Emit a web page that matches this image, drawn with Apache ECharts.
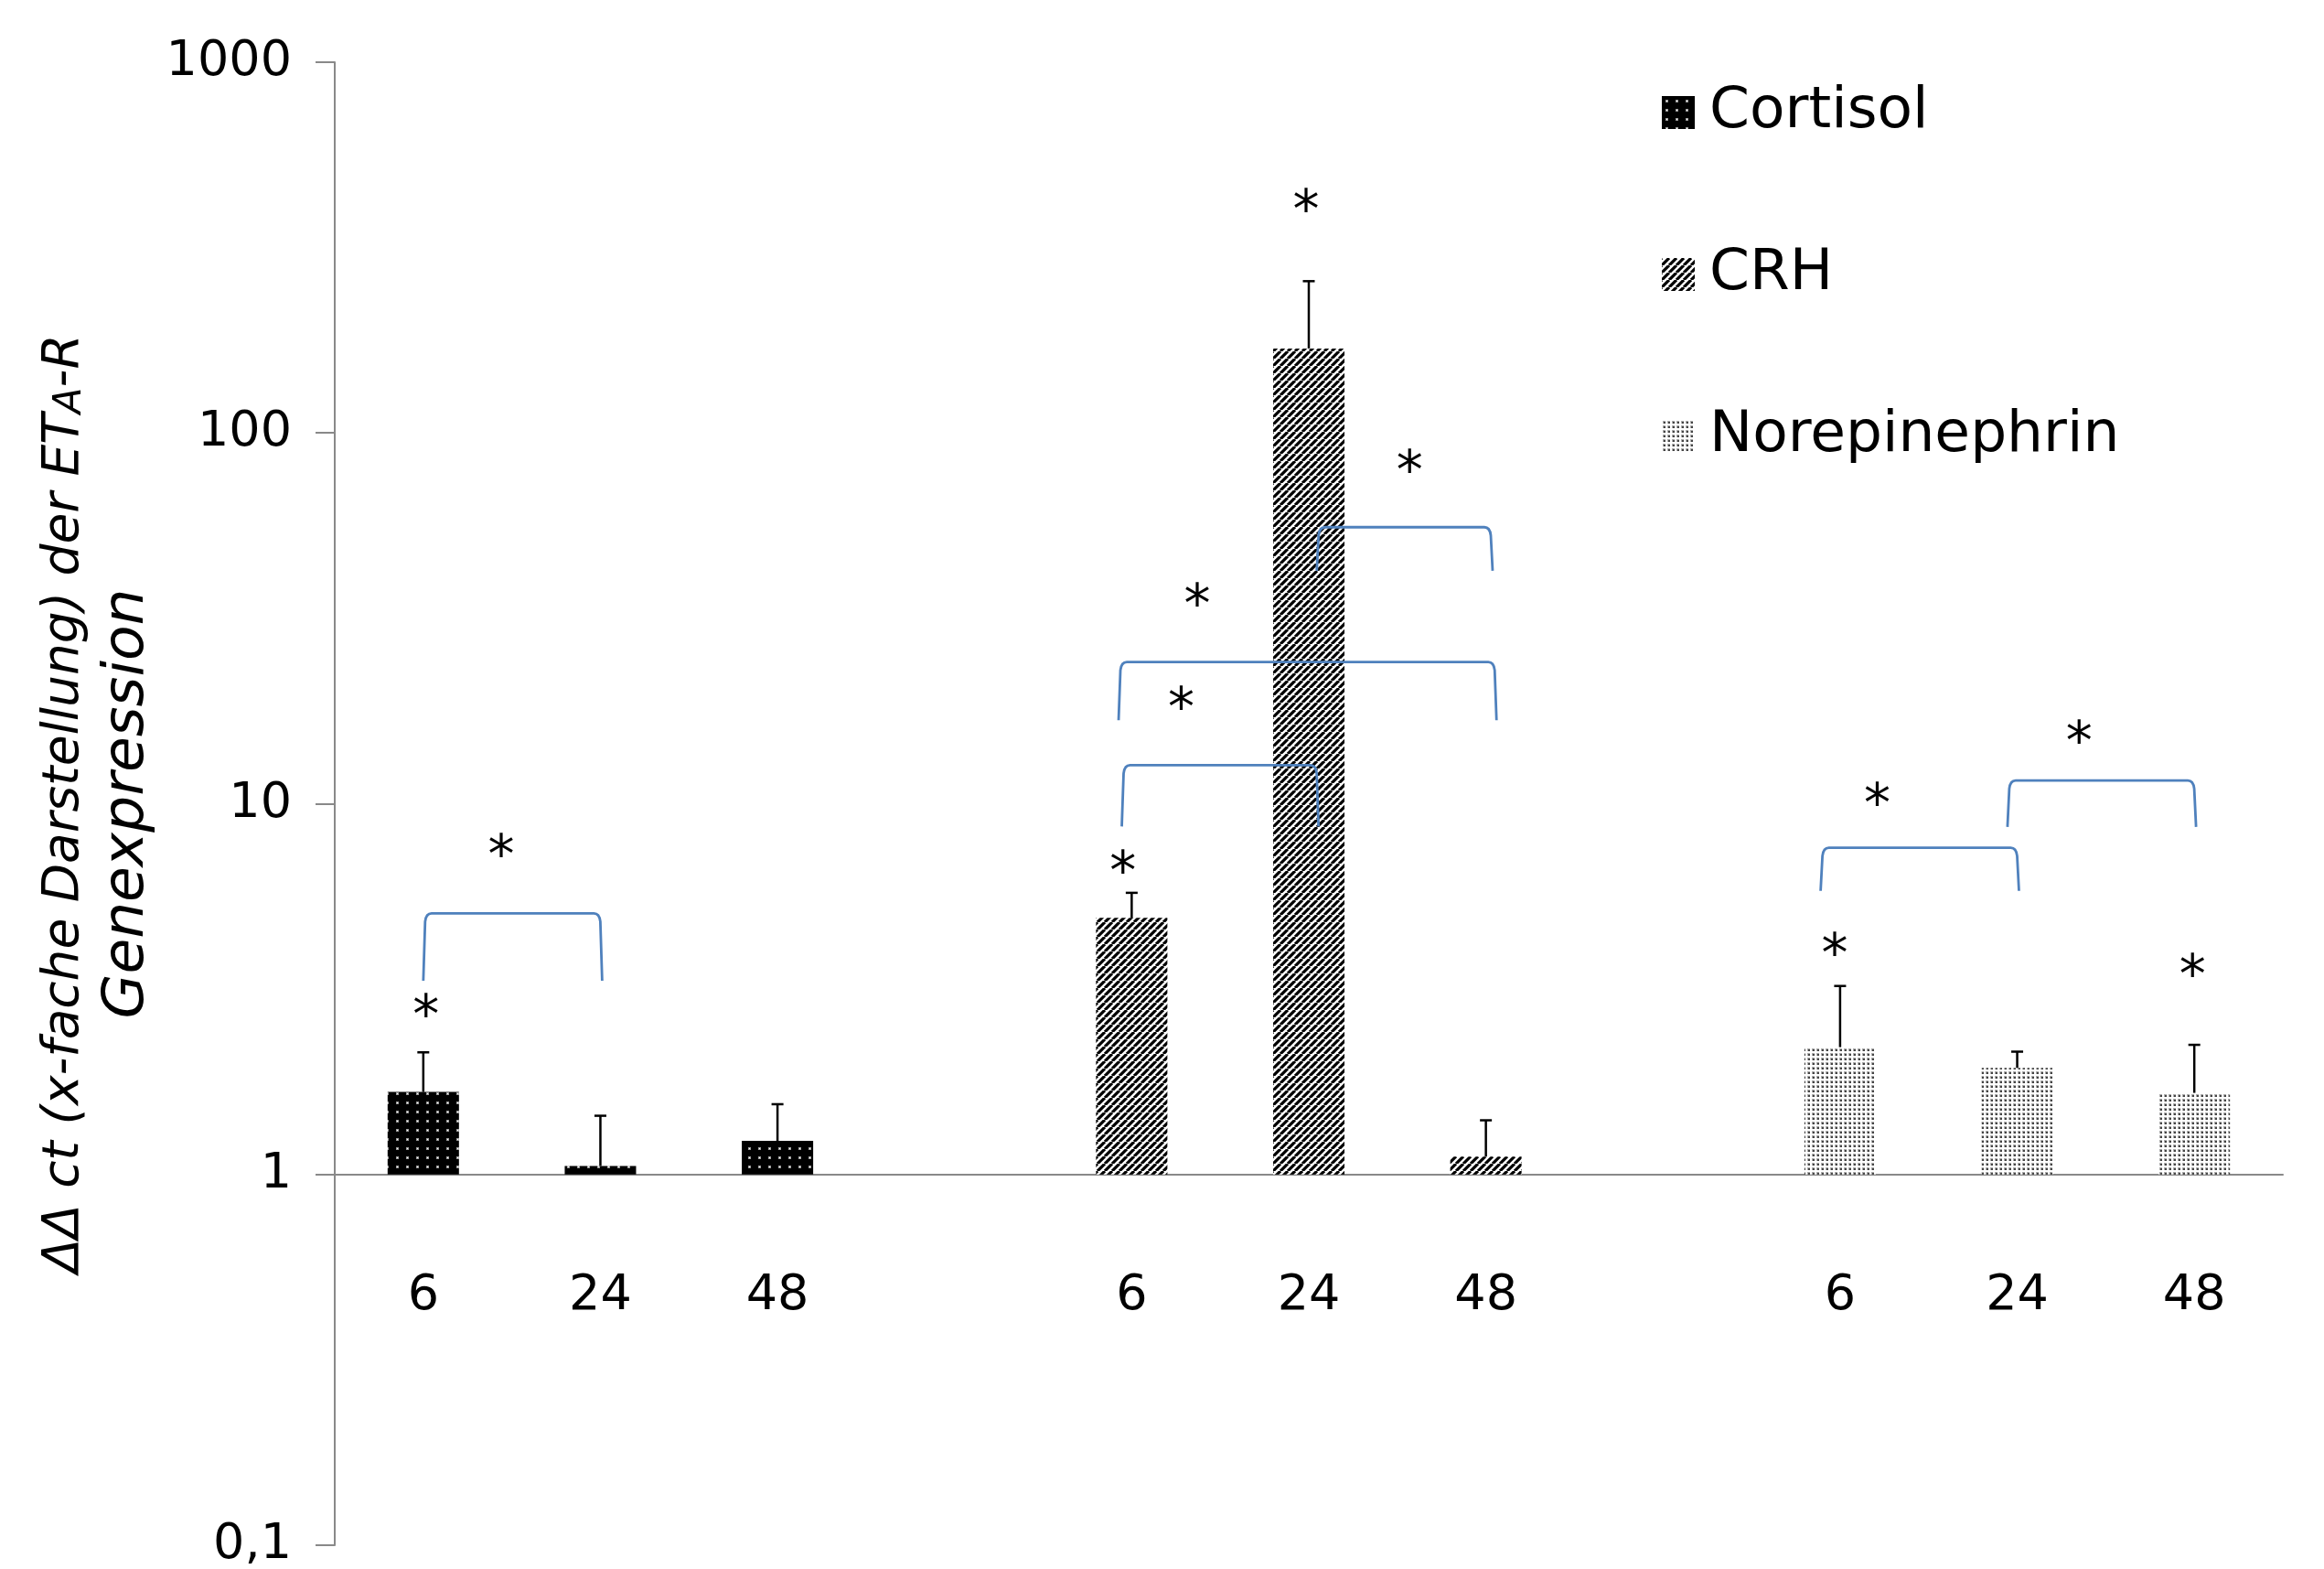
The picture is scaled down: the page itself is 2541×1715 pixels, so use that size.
<!DOCTYPE html>
<html>
<head>
<meta charset="utf-8">
<script src="https://cdn.jsdelivr.net/npm/echarts@6/dist/echarts.min.js"></script>
<style>
html,body{margin:0;padding:0;background:#fff;}
#chart{width:2541px;height:1715px;}
</style>
</head>
<body>
<div id="chart"></div>
<script>
// ---------- data ----------
const categories = ['6', '24', '48', '', '6', '24', '48', '', '6', '24', '48'];
const seriesNames = ['Cortisol', 'CRH', 'Norepinephrin'];

const cortisolMean  = [1.67, 1.054, 1.232, null, null, null, null, null, null, null, null];
const cortisolUpper = [2.135, 1.44, 1.547, null, null, null, null, null, null, null, null];

const crhMean  = [null, null, null, null, 4.92, 169, 1.117, null, null, null, null];
const crhUpper = [null, null, null, null, 5.75, 256.7, 1.40, null, null, null, null];

const neMean  = [null, null, null, null, null, null, null, null, 2.205, 1.938, 1.66];
const neUpper = [null, null, null, null, null, null, null, null, 3.224, 2.144, 2.237];

const yTickLabels = ['0,1', '1', '10', '100', '1000'];

// significance brackets: [xFrom (category index), xTo, topValue, legBottomValue]
const sigBrackets = [
  [0.00, 1.01, 5.06, 3.33],
  [3.944, 5.055, 12.7, 8.68],
  [3.926, 6.06, 24.1, 16.8],
  [5.045, 6.038, 55.7, 42.5],
  [7.89, 9.01, 7.61, 5.82],
  [8.945, 10.01, 11.55, 8.66]
];
// asterisks: [x (category index), value]
const sigStars = [
  [0.015, 2.81], [0.44, 7.59],
  [3.95, 6.84], [4.984, 416], [4.28, 19.0], [4.37, 36.0], [5.57, 82.7],
  [7.97, 4.10], [8.21, 10.44], [9.35, 15.35], [9.99, 3.60]
];

// ---------- styles ----------
const FONT = 'DejaVu Sans';

function makePattern(kind) {
  const c = document.createElement('canvas');
  let ctx;
  if (kind === 'dots') {
    c.width = 11; c.height = 10;
    ctx = c.getContext('2d');
    ctx.fillStyle = '#000'; ctx.fillRect(0, 0, 11, 10);
    ctx.fillStyle = '#9a9a9a'; ctx.fillRect(4, 4, 3, 3);
    ctx.fillStyle = '#ffffff'; ctx.fillRect(5, 5, 1, 1);
  } else if (kind === 'stripes') {
    const p = 8;
    c.width = p; c.height = p;
    ctx = c.getContext('2d');
    ctx.fillStyle = '#fff'; ctx.fillRect(0, 0, p, p);
    ctx.strokeStyle = '#000'; ctx.lineWidth = 3.2;
    ctx.beginPath();
    for (let k = -1; k <= 1; k++) { ctx.moveTo(k * p, p); ctx.lineTo(k * p + p, 0); }
    ctx.stroke();
  } else {
    c.width = 5; c.height = 5;
    ctx = c.getContext('2d');
    ctx.fillStyle = '#fff'; ctx.fillRect(0, 0, 5, 5);
    ctx.fillStyle = '#aaaaaa'; ctx.fillRect(1, 1, 3, 3);
    ctx.fillStyle = '#444444'; ctx.fillRect(2, 2, 2, 2);
  }
  return { image: c, repeat: 'repeat' };
}

const patterns = [makePattern('dots'), makePattern('stripes'), makePattern('fine')];

// error bar data
const errData = [];
[[cortisolMean, cortisolUpper], [crhMean, crhUpper], [neMean, neUpper]].forEach(([m, u]) => {
  m.forEach((v, i) => { if (v != null) errData.push([i, v, u[i]]); });
});

const chart = echarts.init(document.getElementById('chart'), null, { renderer: 'canvas' });

function barSeries(name, data, color) {
  return {
    name: name, type: 'bar', data: data, barWidth: 78, barGap: '-100%',
    itemStyle: { color: color }, emphasis: { disabled: true }, silent: true
  };
}

const option = {
  animation: false,
  backgroundColor: '#fff',
  textStyle: { fontFamily: FONT },
  grid: { left: 366, right: 45, top: 68, bottom: 26, containLabel: false, outerBoundsMode: 'none' },
  legend: {
    orient: 'vertical', left: 1812, top: 82,
    itemWidth: 36, itemHeight: 36, itemGap: 105, icon: 'rect',
    selectedMode: false,
    data: seriesNames,
    textStyle: { fontSize: 63, color: '#000', fontFamily: FONT, lineHeight: 72, padding: [0, 0, 0, 11] }
  },
  xAxis: [
    {
      type: 'category', data: categories, offset: -405.25, position: 'bottom',
      axisLine: { show: true, onZero: false, lineStyle: { color: '#898989', width: 2 } },
      axisTick: { show: false },
      axisLabel: { fontSize: 54, color: '#000', margin: 106, fontFamily: FONT, interval: 0 },
      splitLine: { show: false }
    },
    { type: 'value', min: -0.5, max: 10.5, show: false }
  ],
  yAxis: {
    type: 'log', logBase: 10, min: 0.1, max: 1000,
    axisLine: { show: true, onZero: false, lineStyle: { color: '#898989', width: 2 } },
    axisTick: { show: true, length: 21, lineStyle: { color: '#898989', width: 2 } },
    axisLabel: {
      fontSize: 54, color: '#000', margin: 47, fontFamily: FONT,
      formatter: v => yTickLabels[Math.round(Math.log10(v)) + 1]
    },
    splitLine: { show: false },
    name: '{a|ΔΔ ct (x-fache Darstellung) der ET}{s|A}{a|-R}\n{b|Genexpression}',
    nameLocation: 'middle', nameRotate: 90, nameGap: 179,
    nameTextStyle: {
      color: '#000',
      rich: {
        a: { fontSize: 55, fontStyle: 'italic', lineHeight: 74, verticalAlign: 'bottom', fontFamily: FONT, color: '#000' },
        s: { fontSize: 42, fontStyle: 'italic', lineHeight: 74, verticalAlign: 'bottom', fontFamily: FONT, color: '#000' },
        b: { fontSize: 63, fontStyle: 'italic', lineHeight: 82, fontFamily: FONT, color: '#000' }
      }
    }
  },
  series: [
    barSeries(seriesNames[0], cortisolMean, patterns[0]),
    barSeries(seriesNames[1], crhMean, patterns[1]),
    barSeries(seriesNames[2], neMean, patterns[2]),
    {
      name: 'errors', type: 'custom', xAxisIndex: 0, yAxisIndex: 0, silent: true,
      encode: { x: 0, y: [1, 2] }, data: errData, z: 5,
      renderItem: function (params, api) {
        const p0 = api.coord([api.value(0), api.value(1)]);
        const p1 = api.coord([api.value(0), api.value(2)]);
        const st = { stroke: '#000', lineWidth: 2.5 };
        return {
          type: 'group', children: [
            { type: 'line', shape: { x1: p0[0], y1: p0[1], x2: p1[0], y2: p1[1] }, style: st },
            { type: 'line', shape: { x1: p1[0] - 6.5, y1: p1[1], x2: p1[0] + 6.5, y2: p1[1] }, style: st }
          ]
        };
      }
    },
    {
      name: 'brackets', type: 'custom', xAxisIndex: 1, yAxisIndex: 0, silent: true,
      encode: { x: [0, 1], y: [2, 3] }, data: sigBrackets, z: 6,
      renderItem: function (params, api) {
        const x0 = api.value(0), x1 = api.value(1), top = api.value(2), bot = api.value(3);
        const a = api.coord([x0, bot]), b = api.coord([x0, top]);
        const d = api.coord([x1, bot]);
        const yt = b[1];
        const path = 'M' + a[0] + ' ' + a[1] +
          ' L' + (a[0] + 2) + ' ' + (yt + 9) +
          ' Q' + (a[0] + 3) + ' ' + yt + ' ' + (a[0] + 9) + ' ' + yt +
          ' L' + (d[0] - 9) + ' ' + yt +
          ' Q' + (d[0] - 3) + ' ' + yt + ' ' + (d[0] - 2) + ' ' + (yt + 9) +
          ' L' + d[0] + ' ' + d[1];
        return {
          type: 'path', shape: { pathData: path },
          style: { stroke: '#4f81bd', lineWidth: 2.8, fill: null }
        };
      }
    },
    {
      name: 'stars', type: 'custom', xAxisIndex: 1, yAxisIndex: 0, silent: true,
      encode: { x: 0, y: 1 }, data: sigStars, z: 7,
      renderItem: function (params, api) {
        const p = api.coord([api.value(0), api.value(1)]);
        return {
          type: 'text', x: p[0], y: p[1] + 12,
          style: { text: '*', fontSize: 58, fontFamily: FONT, fill: '#000', align: 'center', verticalAlign: 'middle' }
        };
      }
    }
  ]
};

chart.setOption(option);
</script>
</body>
</html>
